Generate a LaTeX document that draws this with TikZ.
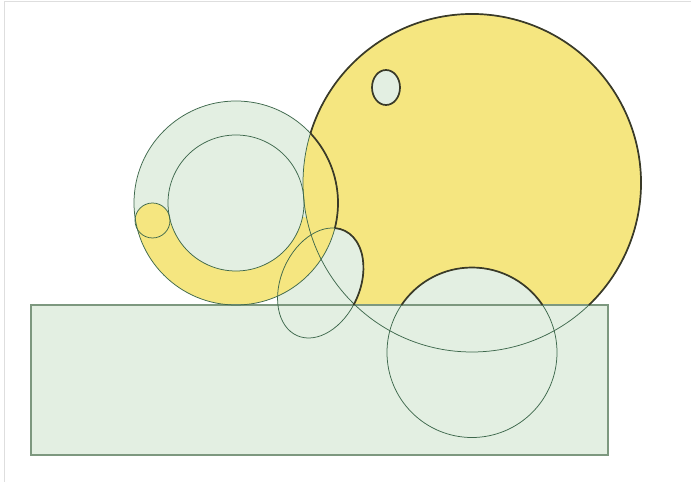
\documentclass[tikz,border=0pt]{standalone}
\definecolor{sunyellow}{RGB}{245,230,128}
\definecolor{leafgreen}{RGB}{227,239,226}
\definecolor{linegreen}{RGB}{62,104,76}
\definecolor{boxgreen}{RGB}{125,152,127}
\definecolor{rimdark}{RGB}{58,58,40}
\definecolor{framegray}{RGB}{222,222,222}
\begin{document}
\begin{tikzpicture}[
                x=1pt, y=1pt,
                leaf/.style={fill=leafgreen},
                sunfill/.style={fill=sunyellow},
                thinline/.style={draw=linegreen, line width=0.75pt},
                boxline/.style={draw=boxgreen, line width=1.3pt},
                rim/.style={draw=rimdark, line width=1.7pt},
                eggframe/.style={shift={(320.5,199)}, rotate=66}]
        \useasboundingbox (0,0) rectangle (691,482);

        % Centres of the round shapes.
        \coordinate (sun) at (472,299);
        \coordinate (ring) at (236,279);
        \coordinate (bead) at (152.5,261.5);
        \coordinate (seed) at (386,394.5);
        \coordinate (dome) at (472,129.5);

        % Screenshot frame.
        \draw[framegray, line width=1.2pt] (4.5,0) -- (4.5,480.5) -- (691,480.5);

        % Light green base of every shape.
        \fill[leaf] (31,27) rectangle (608,177);
        \fill[leaf] (sun) circle[radius=169];
        \fill[leaf] (ring) circle[radius=102];
        \fill[leaf] (dome) circle[radius=85];
        \fill[leaf, eggframe] (0,0) ellipse[x radius=57.6, y radius=39.4];

        % Yellow sun above the box, with the holes put back in green.
        \begin{scope}
                \clip (sun) circle[radius=169];
                \fill[sunfill] (0,177) rectangle (691,482);
        \end{scope}
        \fill[leaf] (dome) circle[radius=85];
        \fill[leaf, eggframe] (0,0) ellipse[x radius=57.6, y radius=39.4];

        % Yellow lower half of the ring, closed by the bead.
        \fill[sunfill, shift={(ring)}] (191.8:102) arc[start angle=191.8, end angle=348.2, radius=102]
                -- (348.2:68) arc[start angle=348.2, end angle=191.8, radius=68] -- cycle;
        \fill[sunfill] (bead) circle[radius=17.5];

        % Thin outlines.
        \draw[boxline] (31,27) rectangle (608,177);
        \foreach \r in {102,68} { \draw[thinline] (ring) circle[radius=\r]; }
        \draw[thinline] (bead) circle[radius=17.5];
        \draw[thinline] (sun) circle[radius=169];
        \draw[thinline] (dome) circle[radius=85];
        \draw[thinline, eggframe] (0,0) ellipse[x radius=57.6, y radius=39.4];

        % Dark rim round the yellow sun.
        \draw[rim] (sun) ++(162.9:169) arc[start angle=162.9, end angle=-46.21, radius=169];
        \draw[rim] (ring) ++(43.11:102) arc[start angle=43.11, end angle=-14.24, radius=102];
        \draw[rim] (dome) ++(33.97:85) arc[start angle=33.97, end angle=146.03, radius=85];
        \draw[rim, eggframe] (13.46:57.6 and 39.4)
                arc[start angle=13.46, end angle=-96.6, x radius=57.6, y radius=39.4];
        \draw[rim, leaf] (seed) ellipse[x radius=14, y radius=17.5];
\end{tikzpicture}
\end{document}
